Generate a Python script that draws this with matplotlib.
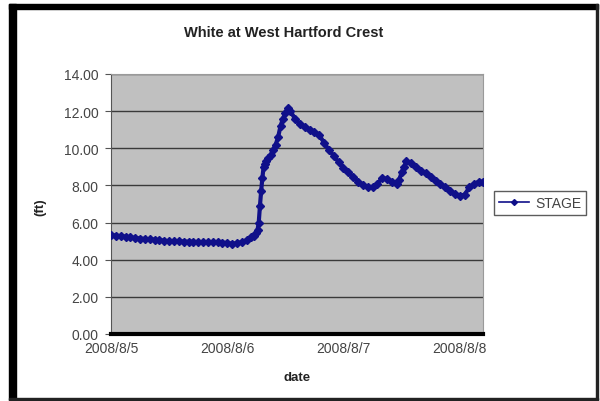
import matplotlib
matplotlib.use("Agg")
import matplotlib.pyplot as plt
from matplotlib.patches import Rectangle
from matplotlib.lines import Line2D

# Stage readings, hours since 2008/8/5 00:00
hours = [0, 1, 2, 3, 4, 5, 6, 7, 8, 9, 10, 11, 12, 13, 14, 15, 16, 17, 18, 19,
         20, 21, 22, 23, 24, 25, 26, 27, 28, 29, 29.5, 30, 30.25, 30.5, 30.75,
         31, 31.25, 31.5, 31.75, 32, 32.5, 33, 33.5, 34, 34.5, 35, 35.5, 36,
         36.5, 37, 38, 39, 40, 41, 42, 43, 44, 45, 46, 47, 48, 49, 50, 51, 52,
         53, 54, 55, 56, 57, 58, 59, 59.5, 60, 60.5, 61, 62, 63, 64, 65, 66,
         67, 68, 69, 70, 71, 72, 73, 74, 75, 76, 76.75]
stage = [5.33, 5.30, 5.27, 5.24, 5.20, 5.17, 5.14, 5.12, 5.10, 5.08, 5.05, 5.02,
         5.00, 5.00, 4.99, 4.98, 4.97, 4.96, 4.95, 4.95, 4.94, 4.93, 4.93, 4.92,
         4.90, 4.86, 4.88, 4.95, 5.05, 5.20, 5.30, 5.45, 5.60, 6.00, 6.90,
         7.70, 8.40, 9.00, 9.15, 9.30, 9.50, 9.65, 9.90, 10.20, 10.60, 11.20,
         11.60, 11.90, 12.15, 12.00, 11.60, 11.30, 11.15, 11.00, 10.90, 10.70,
         10.30, 9.90, 9.60, 9.25, 8.95, 8.70, 8.45, 8.20, 8.05, 7.90, 7.90,
         8.10, 8.40, 8.35, 8.20, 8.10, 8.30, 8.70, 9.00, 9.30, 9.20, 9.00, 8.80,
         8.65, 8.45, 8.25, 8.10, 7.90, 7.70, 7.55, 7.45, 7.50, 7.90, 8.10, 8.20,
         8.20]

date_ticks = [0, 24, 48, 72]
date_labels = ["2008/8/5", "2008/8/6", "2008/8/7", "2008/8/8"]
y_ticks = [0, 2, 4, 6, 8, 10, 12, 14]

W, H = 600, 402
fig = plt.figure(figsize=(W / 100, H / 100), dpi=100, facecolor="white")
plt.rcParams["font.family"] = ["Liberation Sans", "DejaVu Sans"]

# chart frame: heavy left/top edge, thin right/bottom edge
def frame_rect(x0, y0, x1, y1, color):
    fig.patches.append(Rectangle((x0 / W, 1 - y1 / H), (x1 - x0) / W, (y1 - y0) / H,
                                 transform=fig.transFigure, color=color, zorder=0))

frame_rect(9, 5, 598, 10, "black")
frame_rect(9, 5, 16, 401, "black")
frame_rect(596, 5, 598, 401, "#222222")
frame_rect(9, 399, 598, 401, "#222222")

ax = fig.add_axes([111 / W, 1 - 335 / H, (483 - 111) / W, (335 - 75) / H])
ax.set_facecolor("#c0c0c0")

ax.plot(hours, stage, color="#10108a", lw=3.0, marker="D", markersize=3.8,
        markeredgecolor="#10108a", markerfacecolor="#10108a", zorder=3,
        label="STAGE", solid_capstyle="round", solid_joinstyle="round")

ax.set_xlim(0, 76.8)
ax.set_ylim(0, 14)
ax.set_yticks(y_ticks)
ax.set_yticklabels([f"{v:.2f}" for v in y_ticks])
ax.set_xticks(date_ticks)
ax.set_xticklabels(date_labels)
ax.grid(axis="y", color="#3a3a3a", lw=1.0)
ax.set_axisbelow(True)

ax.tick_params(axis="y", length=4, width=0.8, color="#555555", pad=5,
               labelsize=10, labelcolor="#444444")
ax.tick_params(axis="x", length=0, pad=5, labelsize=10, labelcolor="#444444")

for side in ("top", "right"):
    ax.spines[side].set_color("#9a9a9a")
    ax.spines[side].set_linewidth(0.8)
ax.spines["left"].set_color("#555555")
ax.spines["left"].set_linewidth(0.8)
ax.spines["bottom"].set_color("black")
ax.spines["bottom"].set_linewidth(3)

fig.text(284 / W, 1 - 33 / H, "White at West Hartford Crest", ha="center",
         va="center", fontsize=10.5, fontweight="bold", color="#222222")
fig.text(297 / W, 1 - 378 / H, "date", ha="center", va="center",
         fontsize=9.5, fontweight="bold", color="#222222")
fig.text(40 / W, 1 - 207 / H, "(ft)", ha="center", va="center", rotation=90,
         fontsize=9.5, fontweight="bold", color="#222222")

handle = Line2D([], [], color="#10108a", lw=1.2, marker="D", markersize=3)
leg = fig.legend([handle], ["STAGE"], loc="center left",
                 bbox_to_anchor=(494 / W, 1 - 204 / H), frameon=True,
                 fancybox=False, edgecolor="#333333", fontsize=10,
                 handlelength=2.2, handletextpad=0.4, borderpad=0.35,
                 borderaxespad=0)
leg.get_frame().set_linewidth(1.0)
for t in leg.get_texts():
    t.set_color("#444444")

fig.savefig("out.png", dpi=100, facecolor="white")
